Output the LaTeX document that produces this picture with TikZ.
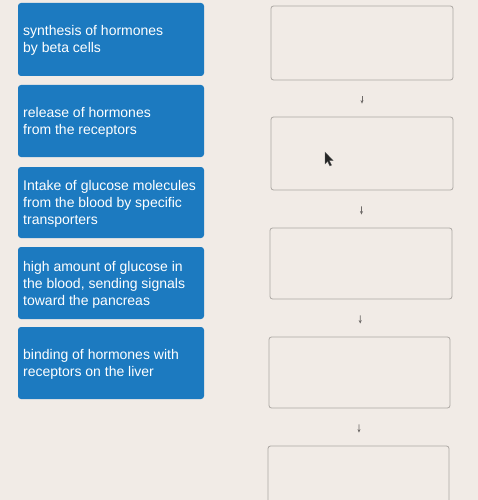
\documentclass[tikz,border=0pt]{standalone}
\usepackage{fontspec}
\setmainfont{Liberation Sans}
\usetikzlibrary{arrows.meta}
\definecolor{bgc}{RGB}{241,235,230}
\definecolor{boxblue}{RGB}{28,122,192}
\definecolor{bordergray}{RGB}{172,167,163}
\definecolor{arrgray}{RGB}{110,106,104}
\tikzset{
  lbox/.style={draw=none, fill=boxblue, rounded corners=3pt, minimum width=186pt, inner sep=0pt},
  ltext/.style={anchor=north west, inner sep=0pt, text=white, align=left,
    font=\fontsize{14}{17}\selectfont},
  rbox/.style={draw=bordergray, line width=0.8pt, fill=bgc, rounded corners=2.5pt, inner sep=0pt},
  flowarr/.style={draw=arrgray, line width=0.8pt, -{Stealth[length=3.5pt,width=3pt]},
    shorten <=16pt, shorten >=13pt},
  cursorshape/.style={fill=black!85, draw=black!60, line width=0.3pt}
}
\begin{document}
\begin{tikzpicture}[x=1pt,y=-1pt]
\fill[bgc] (0,0) rectangle (478,500);
\useasboundingbox (0,0) rectangle (478,500);
% left blue boxes
\node[lbox, minimum height=73pt] (l1) at (111,39.5) {};
\node[lbox, minimum height=72pt] (l2) at (111,121) {};
\node[lbox, minimum height=71pt] (l3) at (111,202.5) {};
\node[lbox, minimum height=72pt] (l4) at (111,283) {};
\node[lbox, minimum height=72pt] (l5) at (111,363) {};
\node[ltext] (t1) at (23,24.8) {synthesis of hormones\\by beta cells};
\node[ltext] (t2) at (23,106.8) {release of hormones\\from the receptors};
\node[ltext] (t3) at (23,179.8) {Intake of glucose molecules\\from the blood by specific\\transporters};
\node[ltext] (t4) at (23,260.8) {high amount of glucose in\\the blood, sending signals\\toward the pancreas};
\node[ltext] (t5) at (23,348.8) {binding of hormones with\\receptors on the liver};
% right empty boxes
\node[rbox, minimum width=182pt, minimum height=74pt] (r1) at (362,43) {};
\node[rbox, minimum width=182pt, minimum height=73pt] (r2) at (362,153.5) {};
\node[rbox, minimum width=182pt, minimum height=71pt] (r3) at (361,263.5) {};
\node[rbox, minimum width=181pt, minimum height=71pt] (r4) at (359.5,372.5) {};
\node[rbox, minimum width=181pt, minimum height=72pt] (r5) at (358.5,482) {};
% arrows
\draw[flowarr] (r1) -- (r2);
\draw[flowarr] (r2) -- (r3);
\draw[flowarr] (r3) -- (r4);
\draw[flowarr] (r4) -- (r5);
% mouse cursor
\coordinate (cur) at (325,152);
\filldraw[cursorshape] (cur) -- ++(0,12) -- ++(2.6,-2.6) -- ++(2.2,4.6) -- ++(1.8,-0.9) -- ++(-2.2,-4.4) -- ++(3.8,0) -- cycle;
\end{tikzpicture}
\end{document}
